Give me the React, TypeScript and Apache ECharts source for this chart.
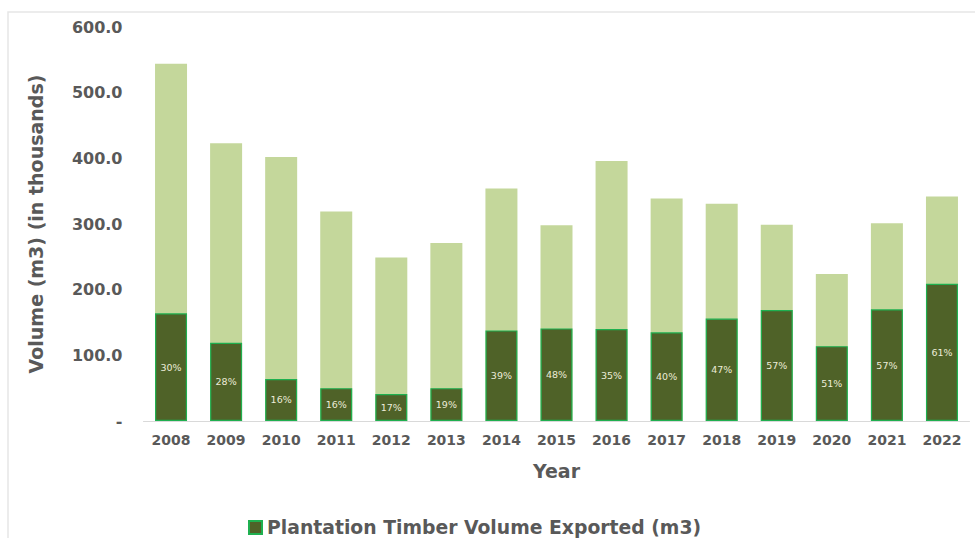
import React, { useEffect, useRef } from "react";
import * as echarts from "echarts";

const years = ["2008", "2009", "2010", "2011", "2012", "2013", "2014", "2015", "2016", "2017", "2018", "2019", "2020", "2021", "2022"];
const totalVolume = [544, 423, 402, 319, 249, 271, 354, 298, 396, 339, 331, 299, 224, 301, 342];
const plantationVolume = [164, 119, 64, 50, 41, 50, 138, 141, 140, 135, 156, 169, 114, 170, 209];
const shareLabels = ["30%", "28%", "16%", "16%", "17%", "19%", "39%", "48%", "35%", "40%", "47%", "57%", "51%", "57%", "61%"];
const yTicks = { min: 0, max: 600, interval: 100 };

export default function App() {
  const ref = useRef<HTMLDivElement>(null);
  useEffect(() => {
    if (!ref.current) return;
    const chart = echarts.init(ref.current, null, { renderer: "svg" });
    const font = "'DejaVu Sans', Verdana, sans-serif";
    chart.setOption({
      animation: false,
      textStyle: { fontFamily: font },
      graphic: [
        {
          type: "rect",
          shape: { x: 8, y: 12, width: 1000, height: 600 },
          style: { fill: "none", stroke: "#e6e6e6", lineWidth: 1.5 },
          silent: true,
        },
      ],
      grid: { left: 143.5, right: 5.5, top: 27, bottom: 117 },
      legend: {
        data: ["Plantation Timber Volume Exported (m3)"],
        left: 243,
        top: 513,
        icon: "rect",
        itemWidth: 13,
        itemHeight: 13,
        itemGap: 8,
        textStyle: { color: "#595959", fontSize: 18.8, fontWeight: "bold", fontFamily: font },
      },
      xAxis: {
        type: "category",
        data: years,
        name: "Year",
        nameLocation: "middle",
        nameGap: 40,
        nameTextStyle: { color: "#595959", fontSize: 19, fontWeight: "bold", fontFamily: font },
        axisLine: { lineStyle: { color: "#d9d9d9", width: 1 } },
        axisTick: { show: false },
        axisLabel: { color: "#595959", fontSize: 14, fontWeight: "bold", margin: 12, fontFamily: font },
      },
      yAxis: {
        type: "value",
        min: yTicks.min,
        max: yTicks.max,
        interval: yTicks.interval,
        name: "Volume (m3) (in thousands)",
        nameLocation: "middle",
        nameGap: 98,
        nameRotate: 90,
        nameTextStyle: { color: "#595959", fontSize: 19, fontWeight: "bold", fontFamily: font },
        splitLine: { show: false },
        axisLine: { show: false },
        axisTick: { show: false },
        axisLabel: {
          color: "#595959",
          fontSize: 16,
          fontWeight: "bold",
          margin: 21,
          fontFamily: font,
          formatter: (v: number) => (v === 0 ? "-" : v.toFixed(1)),
        },
      },
      series: [
        {
          name: "Total Timber Volume Exported (m3)",
          type: "bar",
          data: totalVolume,
          barWidth: 32,
          barGap: "-100%",
          itemStyle: { color: "#c4d79b" },
          z: 1,
        },
        {
          name: "Plantation Timber Volume Exported (m3)",
          type: "bar",
          data: plantationVolume,
          barWidth: 32,
          barGap: "-100%",
          itemStyle: { color: "#4f6228", borderColor: "#1fb050", borderWidth: 1.2 },
          z: 2,
          label: {
            show: true,
            position: "inside",
            color: "#ececd8",
            fontSize: 9.5,
            fontFamily: font,
            formatter: (p: any) => shareLabels[p.dataIndex],
          },
        },
      ],
    });
    return () => chart.dispose();
  }, []);
  return <div ref={ref} style={{ position: "absolute", left: 0, top: 0, width: 975, height: 538 }} />;
}
